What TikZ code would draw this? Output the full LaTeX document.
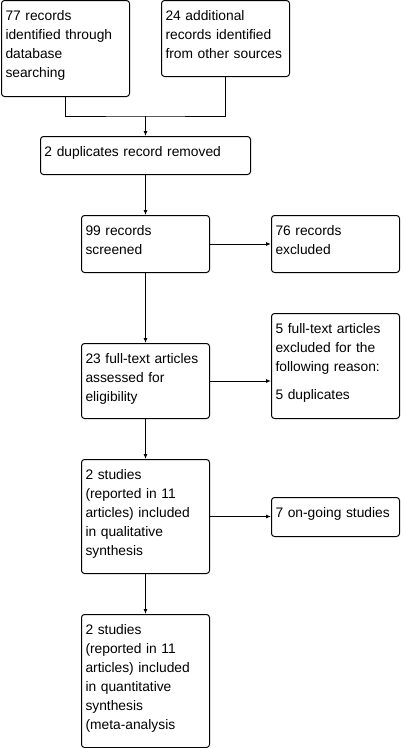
\documentclass[tikz,border=0pt]{standalone}
\usepackage{fontspec}
\setmainfont{Liberation Sans}
\usetikzlibrary{arrows.meta}
\tikzset{
  process/.style={rounded corners=3pt, anchor=north west, align=left,
    text width=120pt, inner xsep=4pt, inner ysep=10pt,
    text height=10pt, text depth=#1pt, font=\fontsize{13.8}{19}\selectfont},
}

\begin{document}
\begin{tikzpicture}[x=1pt, y=1pt, line width=1pt]
        \useasboundingbox (0,0) rectangle (403,-748);
        \node (A) at (1,0) [draw, process=66] {77 records\\identified through\\database\\searching};
        \node (B) at (161,0) [draw, process=46] {24 additional\\records identified\\from other sources};
        \node (C) at (40,-136) [draw, process=8, text width=202pt] {2 duplicates record removed};
        \node (D) at (81,-215) [draw, process=27] {99 records\\screened};
        \node (E) at (271,-215) [draw, process=27] {76 records\\excluded};
        \node (F) at (81,-343) [draw, process=45] {23 full-text articles\\assessed for\\eligibility};
        \node (G) at (271,-313) [draw, process=75] {5 full-text articles\\excluded for the\\following reason:\\[9pt]5 duplicates};
        \node (H) at (81,-459) [draw, process=84] {2 studies\\(reported in 11\\articles) included\\in qualitative\\synthesis};
        \node (I) at (271,-497) [draw, process=9] {7 on-going studies};
        \node (J) at (81,-614) [draw, process=103] {2 studies\\(reported in 11\\articles) included\\in quantitative\\synthesis\\(meta-analysis};
        \coordinate (K) at (C.north |- 0,-116);
        \draw (A.south) |- (K) -| (B.south);
        \draw[-{Latex[length=5pt,width=4pt]}] (K) -- (C.north);
        \draw[-{Latex[length=5pt,width=4pt]}] (C.south) -- (D.north);
        \draw[-{Latex[length=5pt,width=4pt]}] (D.east) -- (D.east -| E.west);
        \draw[-{Latex[length=5pt,width=4pt]}] (D.south) -- (F.north);
        \draw[-{Latex[length=5pt,width=4pt]}] (F.east) -- (F.east -| G.west);
        \draw[-{Latex[length=5pt,width=4pt]}] (F.south) -- (H.north);
        \draw[-{Latex[length=5pt,width=4pt]}] (H.east) -- (H.east -| I.west);
        \draw[-{Latex[length=5pt,width=4pt]}] (H.south) -- (J.north);

    \end{tikzpicture}
\end{document}
